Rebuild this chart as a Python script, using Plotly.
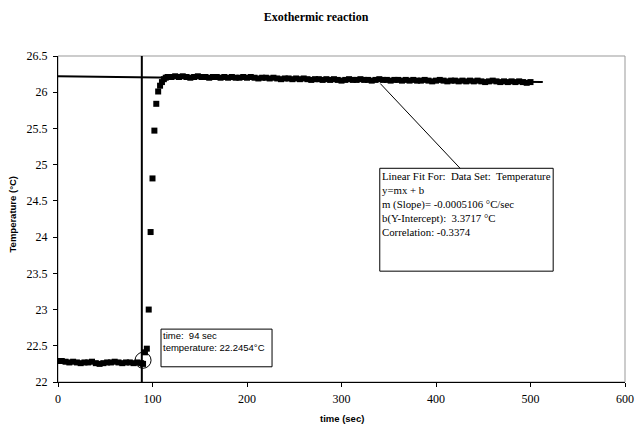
import plotly.graph_objects as go

# ---------------- data ----------------
pre_times = list(range(0, 89, 4))
pre_temps = [22.29, 22.29, 22.28, 22.27, 22.28, 22.27, 22.26, 22.27, 22.27, 22.28,
             22.26, 22.25, 22.26, 22.27, 22.27, 22.28, 22.27, 22.26, 22.27, 22.27,
             22.26, 22.27, 22.26]

jump_times = [90, 92, 94, 96, 98, 100, 102, 104, 106, 108, 110, 112, 114, 116]
jump_temps = [22.25, 22.41, 22.46, 23.00, 24.07, 24.81, 25.47, 25.84, 26.01, 26.09,
              26.14, 26.18, 26.20, 26.21]

post_times = list(range(120, 501, 4))
post_temps = [26.21, 26.22, 26.21, 26.22, 26.21, 26.20, 26.21, 26.22, 26.21, 26.21,
              26.20, 26.21, 26.21, 26.20, 26.21, 26.20, 26.21, 26.20, 26.20, 26.21,
              26.20, 26.21, 26.20, 26.19, 26.20, 26.20, 26.19, 26.20, 26.19, 26.18,
              26.19, 26.19, 26.18, 26.19, 26.18, 26.19, 26.18, 26.17, 26.18, 26.18,
              26.17, 26.18, 26.17, 26.18, 26.17, 26.16, 26.17, 26.18, 26.17, 26.17,
              26.18, 26.17, 26.17, 26.16, 26.17, 26.18, 26.17, 26.17, 26.16, 26.17,
              26.17, 26.16, 26.17, 26.16, 26.17, 26.16, 26.16, 26.17, 26.16, 26.15,
              26.16, 26.17, 26.16, 26.15, 26.16, 26.16, 26.15, 26.16, 26.15, 26.16,
              26.15, 26.16, 26.15, 26.14, 26.15, 26.16, 26.15, 26.14, 26.15, 26.14,
              26.15, 26.14, 26.15, 26.14, 26.13, 26.14]

fit_times = [0, 513]
fit_temps = [26.22, 26.14]

cursor_time = 88.7
circle_point = (90, 22.30)

x_ticks = [0, 100, 200, 300, 400, 500, 600]
y_ticks = [22, 22.5, 23, 23.5, 24, 24.5, 25, 25.5, 26, 26.5]

fit_text = ["Linear Fit For:  Data Set:  Temperature",
            "y=mx + b",
            "m (Slope)= -0.0005106 \u00b0C/sec",
            "b(Y-Intercept):  3.3717 \u00b0C",
            "Correlation: -0.3374"]
point_text = ["time:  94 sec", "temperature: 22.2454\u00b0C"]

times = pre_times + jump_times + post_times
temps = pre_temps + jump_temps + post_temps

# ---------------- figure ----------------
fig = go.Figure()
fig.add_trace(go.Scatter(x=fit_times, y=fit_temps, mode="lines",
                         line=dict(color="black", width=2), hoverinfo="skip"))
fig.add_trace(go.Scatter(x=times, y=temps, mode="markers",
                         marker=dict(symbol="square", size=6, color="black",
                                     line=dict(width=0))))

serif = "Liberation Serif, Times New Roman, serif"
sans = "Liberation Sans, Arial, sans-serif"

axis_common = dict(showgrid=False, zeroline=False, showline=True, linecolor="black",
                   linewidth=1, ticks="outside", ticklen=4, tickcolor="black",
                   automargin=False,
                   tickfont=dict(family=serif, size=12, color="black"))

FIG_W, FIG_H = 635, 425
fig.update_layout(
    width=FIG_W, height=FIG_H,
    margin=dict(l=58, r=10, t=56, b=43, autoexpand=False),
    paper_bgcolor="white", plot_bgcolor="white",
    showlegend=False,
    title=dict(text="<b>Exothermic reaction</b>", x=316 / FIG_W, xanchor="center",
               y=1 - 17 / FIG_H, yanchor="middle",
               font=dict(family=serif, size=12, color="black")),
    xaxis=dict(range=[0, 600], tickvals=x_ticks, ticklabelstandoff=2, **axis_common),
    yaxis=dict(range=[22, 26.5], tickvals=y_ticks, ticklabelstandoff=3, **axis_common),
)

# plot-area border (top/right in grey)
fig.add_shape(type="rect", xref="paper", yref="paper", x0=0, y0=0, x1=1, y1=1,
              line=dict(color="#999999", width=1), layer="below")

# cursor vertical line
fig.add_shape(type="line", xref="x", yref="paper", x0=cursor_time, x1=cursor_time,
              y0=0, y1=1, line=dict(color="black", width=2))

# circle around selected point
fig.add_shape(type="circle", xref="x", yref="y", xsizemode="pixel", ysizemode="pixel",
              xanchor=circle_point[0], yanchor=circle_point[1],
              x0=-8, x1=8, y0=-8, y1=8, line=dict(color="black", width=1))

# fit info box
fit_box = dict(x0=340.5, x1=524, y0=23.53, y1=24.95)
fig.add_shape(type="rect", xref="x", yref="y", **fit_box,
              line=dict(color="black", width=1), fillcolor="rgba(0,0,0,0)")
fig.add_shape(type="line", xref="x", yref="y", x0=341, y0=26.12, x1=425.5, y1=24.95,
              line=dict(color="black", width=1))
fig.add_annotation(xref="x", yref="y", x=fit_box["x0"], y=fit_box["y1"] + 0.01,
                   xanchor="left", yanchor="top", align="left", showarrow=False,
                   text="<br>".join(fit_text),
                   font=dict(family=serif, size=10.8, color="black"))

# point info box
pt_box = dict(x0=109, x1=226.5, y0=22.21, y1=22.73)
fig.add_shape(type="rect", xref="x", yref="y", **pt_box,
              line=dict(color="black", width=1), fillcolor="white")
fig.add_annotation(xref="x", yref="y", x=pt_box["x0"], y=pt_box["y1"] + 0.02,
                   xanchor="left", yanchor="top", align="left", showarrow=False,
                   text="<br>".join(point_text),
                   font=dict(family=sans, size=9.5, color="black"))

# axis titles
fig.add_annotation(xref="paper", yref="paper", x=0.5, y=-36 / 326, xanchor="center",
                   yanchor="middle", showarrow=False, text="<b>time (sec)</b>",
                   font=dict(family=sans, size=9.5, color="black"))
fig.add_annotation(xref="paper", yref="paper", x=-46 / 567, y=(382 - 214.5) / 326,
                   xanchor="center", yanchor="middle", showarrow=False, textangle=-90,
                   text="<b>Temperature (\u00b0C)</b>",
                   font=dict(family=sans, size=9.5, color="black"))

fig.write_html("out.html", config={"displayModeBar": False, "staticPlot": True},
               post_script="document.body.style.margin='0px';")
